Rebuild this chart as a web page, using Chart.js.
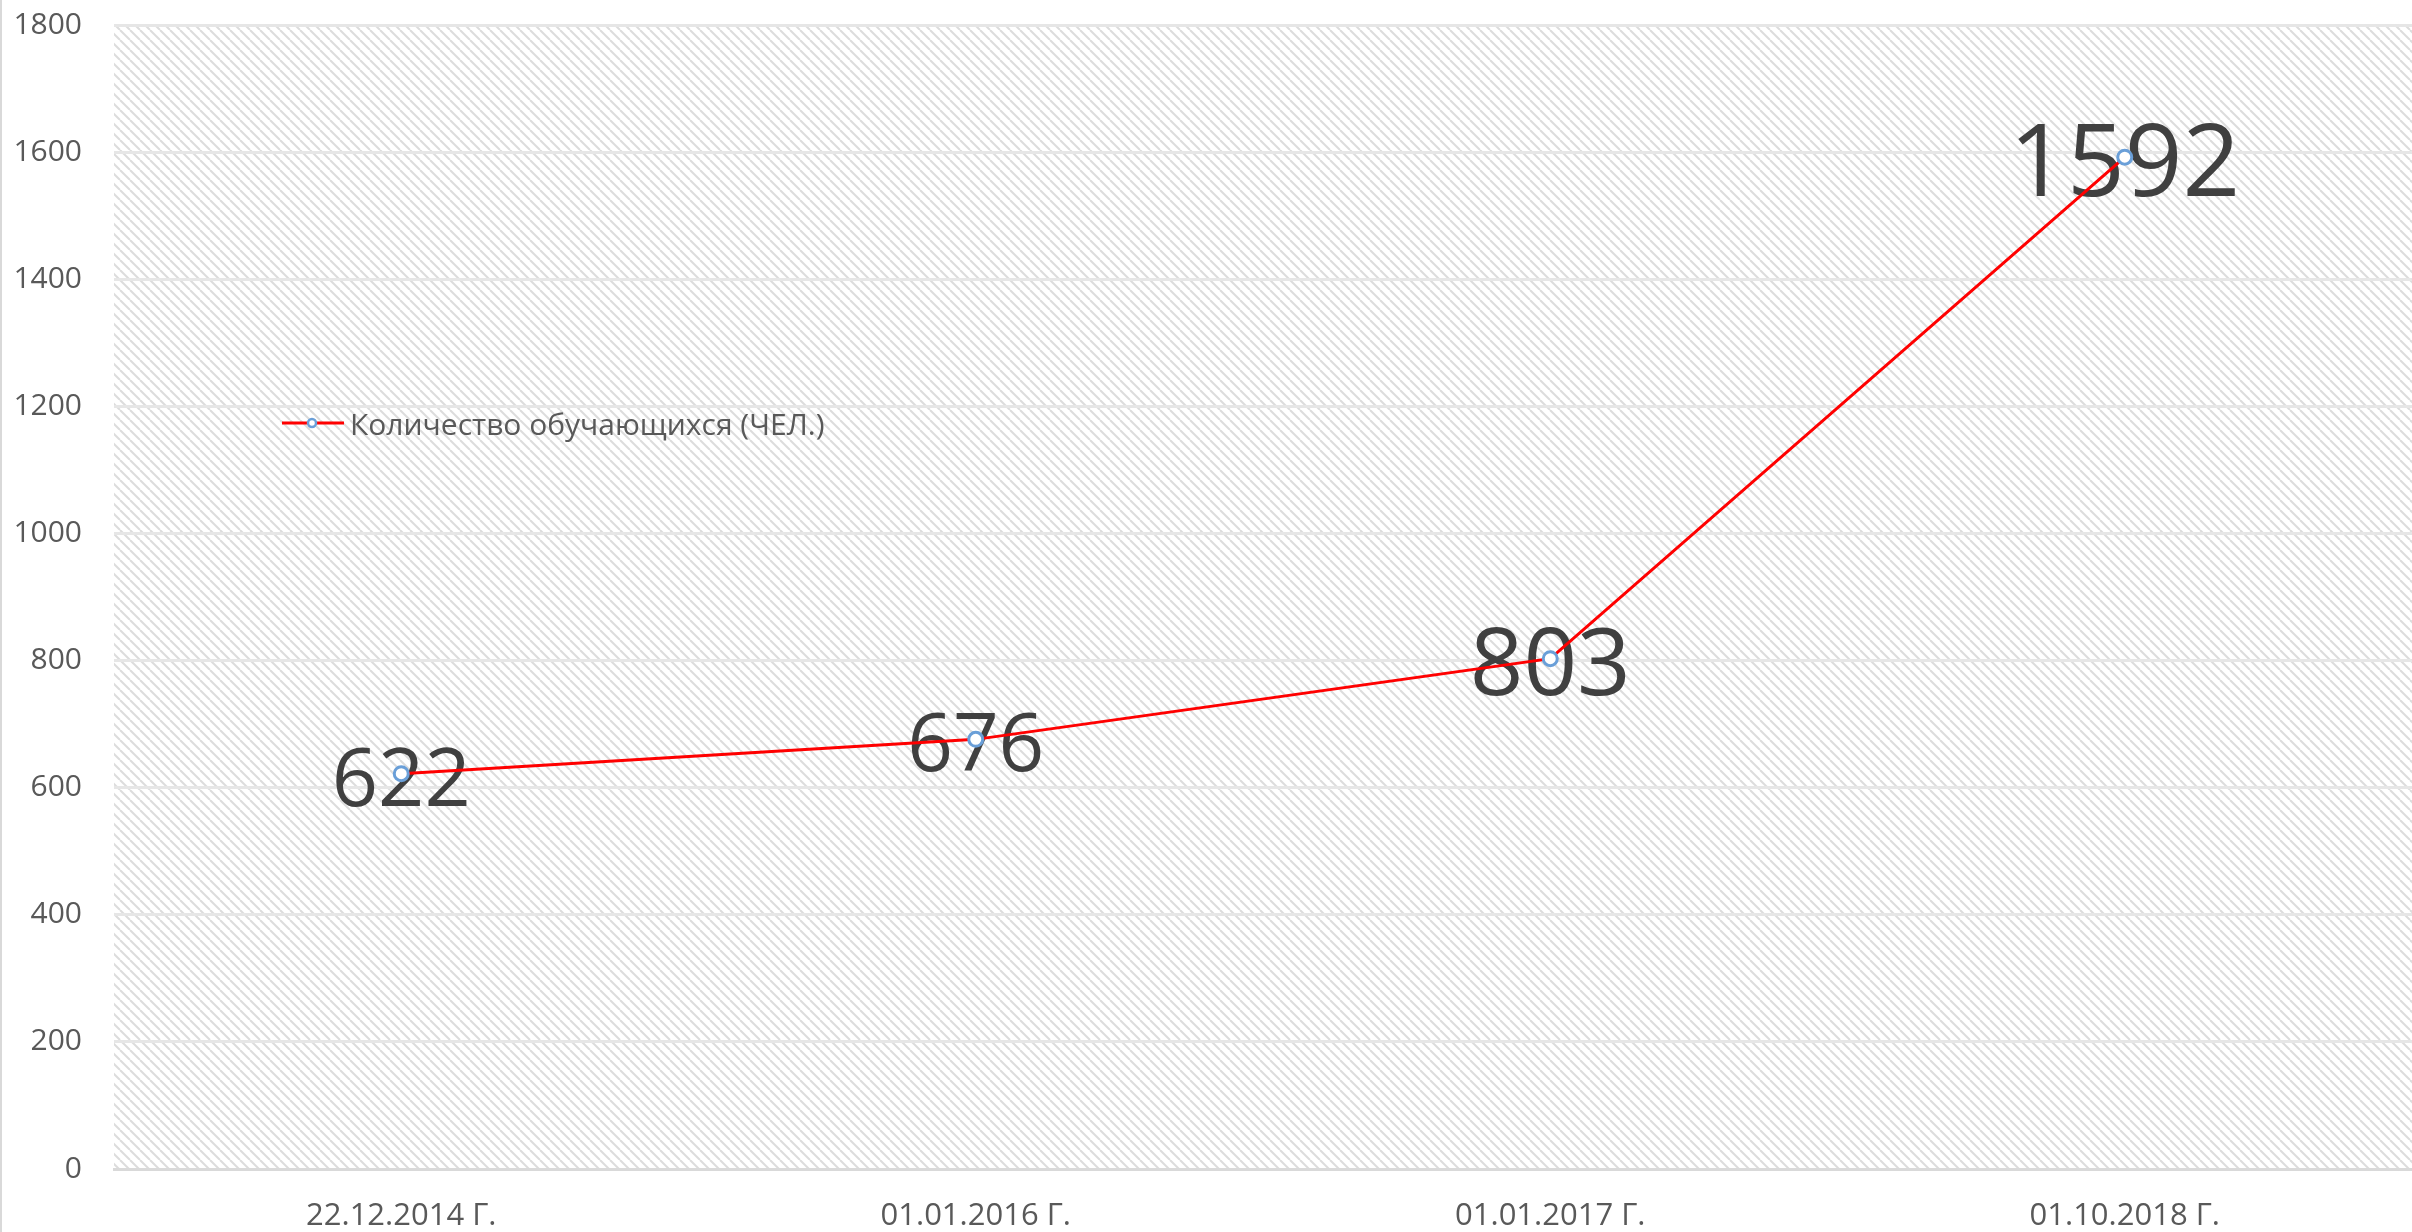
<!DOCTYPE html>
<html lang="ru">
<head>
<meta charset="utf-8">
<title>Количество обучающихся</title>
<script src="https://cdn.jsdelivr.net/npm/chart.js@4.4.1/dist/chart.umd.min.js"></script>
<style>
  html, body { margin: 0; padding: 0; background: #fff; overflow: hidden; }
  #wrap { position: relative; width: 2422px; height: 1232px; }
</style>
</head>
<body>
<div id="wrap"><canvas id="chart" width="2422" height="1232"></canvas></div>
<script>
// Data
const categories = ['22.12.2014 Г.', '01.01.2016 Г.', '01.01.2017 Г.', '01.10.2018 Г.'];
const students = [622, 676, 803, 1592];
const seriesLabel = 'Количество обучающихся (ЧЕЛ.)';
const yMin = 0;
const yMax = 1800;
const yStep = 200;

// Data label font sizes (the labels in the source are not all the same size)
const labelSizes = [81, 80, 94, 101];

const FONT = '"Open Sans", "Noto Sans", sans-serif';
const GREY_TEXT = '#595959';

// Diagonal hatch for the plot area
function makeHatch(ctx) {
    const p = 10;
    const tile = document.createElement('canvas');
    tile.width = p;
    tile.height = p;
    const t = tile.getContext('2d');
    t.strokeStyle = '#dcdcdc';
    t.lineWidth = 2;
    for (let x0 = -p; x0 <= p; x0 += p) {
        t.beginPath();
        t.moveTo(x0, 0);
        t.lineTo(x0 + p, p);
        t.stroke();
    }
    return ctx.createPattern(tile, 'repeat');
}

const plotBackground = {
    id: 'plotBackground',
    beforeDraw(chart) {
        const { ctx, chartArea: a } = chart;
        ctx.save();
        ctx.fillStyle = makeHatch(ctx);
        ctx.fillRect(a.left, a.top, a.right - a.left, a.bottom - a.top);
        // thin frame line on the left edge
        ctx.fillStyle = '#d9d9d9';
        ctx.fillRect(0, 0, 2, chart.height);
        ctx.restore();
    }
};

// Big value labels centred on the points, under the line
const valueLabels = {
    id: 'valueLabels',
    beforeDatasetsDraw(chart) {
        const { ctx } = chart;
        const meta = chart.getDatasetMeta(0);
        ctx.save();
        ctx.fillStyle = '#404040';
        ctx.textAlign = 'center';
        ctx.textBaseline = 'alphabetic';
        meta.data.forEach((pt, i) => {
            const size = labelSizes[i];
            ctx.font = size + 'px ' + FONT;
            ctx.fillText(String(chart.data.datasets[0].data[i]), pt.x, pt.y + size * 0.357 + 3);
        });
        ctx.restore();
    }
};

// Legend sitting inside the plot area
const insideLegend = {
    id: 'insideLegend',
    afterDraw(chart) {
        const { ctx } = chart;
        const ds = chart.data.datasets[0];
        const y = 423;
        ctx.save();
        ctx.strokeStyle = ds.borderColor;
        ctx.lineWidth = 3;
        ctx.beginPath();
        ctx.moveTo(282, y);
        ctx.lineTo(344, y);
        ctx.stroke();
        ctx.beginPath();
        ctx.arc(312, y, 4, 0, Math.PI * 2);
        ctx.fillStyle = ds.pointBackgroundColor;
        ctx.fill();
        ctx.lineWidth = 2.5;
        ctx.strokeStyle = ds.pointBorderColor;
        ctx.stroke();
        ctx.font = '30px ' + FONT;
        ctx.fillStyle = GREY_TEXT;
        ctx.textAlign = 'left';
        ctx.textBaseline = 'middle';
        ctx.fillText(ds.label, 350, y + 3);
        ctx.restore();
    }
};

Chart.defaults.font.family = FONT;

new Chart(document.getElementById('chart'), {
    type: 'line',
    data: {
        labels: categories,
        datasets: [{
            label: seriesLabel,
            data: students,
            borderColor: '#ff0000',
            borderWidth: 3,
            tension: 0,
            fill: false,
            pointRadius: 7,
            pointBorderWidth: 3,
            pointBorderColor: '#6a9fd8',
            pointBackgroundColor: '#ffffff'
        }]
    },
    options: {
        responsive: false,
        animation: false,
        layout: { padding: { top: 25, right: 0, bottom: 0, left: 0 } },
        plugins: {
            legend: { display: false },
            tooltip: { enabled: false }
        },
        scales: {
            x: {
                offset: true,
                grid: { display: false, drawTicks: false },
                border: { display: true, color: '#d9d9d9', width: 3 },
                ticks: { color: GREY_TEXT, font: { size: 31 }, padding: 29, maxRotation: 0 },
                afterFit(scale) {
                    scale.height = 63;
                    scale.paddingLeft = 0;
                    scale.paddingRight = 0;
                }
            },
            y: {
                min: yMin,
                max: yMax,
                grid: { color: '#e6e6e6', lineWidth: 3, drawTicks: false },
                border: { display: false },
                ticks: {
                    stepSize: yStep,
                    color: GREY_TEXT,
                    font: { size: 30 },
                    padding: 32,
                    callback: (value) => String(value)
                },
                afterFit(scale) {
                    scale.width = 114;
                    scale.paddingTop = 0;
                    scale.paddingBottom = 0;
                }
            }
        }
    },
    plugins: [plotBackground, valueLabels, insideLegend]
});
</script>
</body>
</html>
